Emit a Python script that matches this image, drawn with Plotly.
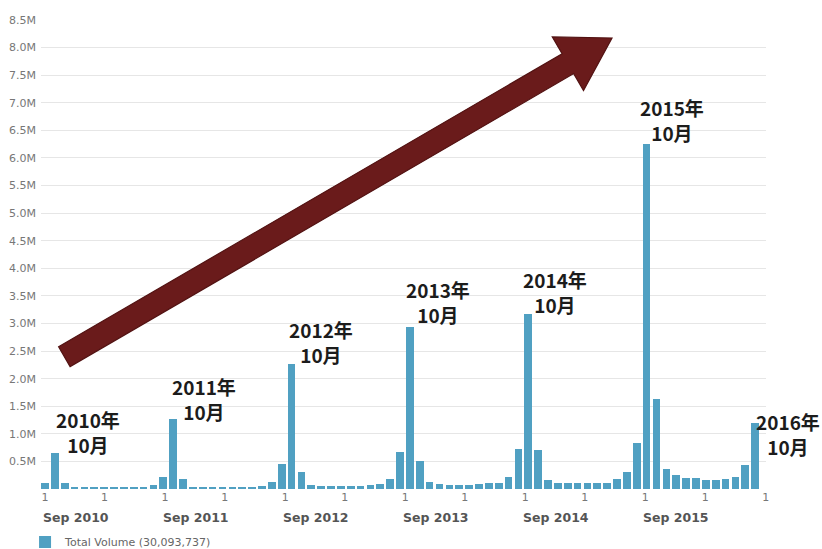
import pandas as pd
import plotly.graph_objects as go

# ---- data (values in millions, one bucket every 30 days) ----
bucket_start = "2010-09-01"
bucket_days = 30
volume_m = [
    0.11, 0.66, 0.10, 0.022, 0.022, 0.022, 0.022, 0.022, 0.022, 0.025, 0.036, 0.07, 0.22,
    1.26, 0.19, 0.025, 0.024, 0.024, 0.024, 0.024, 0.026, 0.036, 0.05, 0.13, 0.45,
    2.26, 0.31, 0.08, 0.057, 0.057, 0.06, 0.057, 0.057, 0.065, 0.085, 0.19, 0.67,
    2.93, 0.50, 0.12, 0.09, 0.08, 0.08, 0.08, 0.095, 0.10, 0.11, 0.21, 0.73,
    3.18, 0.70, 0.157, 0.114, 0.114, 0.114, 0.114, 0.114, 0.114, 0.18, 0.31, 0.84,
    6.25, 1.64, 0.355, 0.245, 0.20, 0.20, 0.17, 0.17, 0.19, 0.22, 0.43, 1.20,
]
series_name = "Total Volume (30,093,737)"
y_tick_values_m = [0.5, 1.0, 1.5, 2.0, 2.5, 3.0, 3.5, 4.0, 4.5, 5.0, 5.5, 6.0, 6.5, 7.0, 7.5, 8.0, 8.5]
x_tick_dates = ["2010-09-01", "2011-03-01", "2011-09-01", "2012-03-01", "2012-09-01", "2013-03-01",
                "2013-09-01", "2014-03-01", "2014-09-01", "2015-03-01", "2015-09-01", "2016-03-01",
                "2016-09-01"]
year_label_dates = ["2010-09-01", "2011-09-01", "2012-09-01", "2013-09-01", "2014-09-01", "2015-09-01"]
year_labels = ["Sep 2010", "Sep 2011", "Sep 2012", "Sep 2013", "Sep 2014", "Sep 2015"]
callout_texts = ["2010年<br>10月", "2011年<br>10月", "2012年<br>10月", "2013年<br>10月",
                 "2014年<br>10月", "2015年<br>10月", "2016年<br>10月"]
# callout centre positions in pixels of the 822x549 picture
callout_px = [(88, 432), (204, 399), (321, 342), (438, 302), (555, 292), (672, 120), (788, 434)]

dates = pd.date_range(bucket_start, periods=len(volume_m), freq=f"{bucket_days}D")
volume = [v * 1e6 for v in volume_m]

W, H = 822, 549
ML, MR, MT, MB = 41, 56, 19, 60
PW, PH = W - ML - MR, H - MT - MB


def px2paper(x, y):
    return (x - ML) / PW, (H - MB - y) / PH


fig = go.Figure()
fig.add_trace(go.Bar(
    x=dates, y=volume, name=series_name,
    marker=dict(color="#50a0c2", line=dict(width=0)),
    width=23.4 * 86400000,
    showlegend=True,
))

# big arrow (decoration)
arrow_px = [(58.6, 346.8), (562.1, 53.8), (552.3, 36.9), (612, 38), (583.5, 90.5),
            (573.7, 73.6), (70.1, 366.6)]
pts = [px2paper(x, y) for x, y in arrow_px]
path = "M " + " L ".join(f"{x:.5f},{y:.5f}" for x, y in pts) + " Z"
fig.add_shape(type="path", xref="paper", yref="paper", path=path,
              fillcolor="#6a1b1b", line=dict(color="#521212", width=1.2), layer="above")

for txt, (cx, cy) in zip(callout_texts, callout_px):
    xp, yp = px2paper(cx, cy)
    fig.add_annotation(x=xp, y=yp, xref="paper", yref="paper", text=txt, showarrow=False,
                       xanchor="center", yanchor="middle", align="center",
                       font=dict(family="Noto Sans CJK JP", size=19, color="#1c1c1c", weight="bold"))

for d, lab in zip(year_label_dates, year_labels):
    fig.add_annotation(x=d, y=(H - MB - 517) / PH, xref="x", yref="paper", text=lab,
                       showarrow=False, xanchor="left", yanchor="middle", xshift=-4,
                       font=dict(family="DejaVu Sans", size=12.5, color="#555555", weight="bold"))

fig.update_layout(
    width=W, height=H,
    margin=dict(l=ML, r=MR, t=MT, b=MB, pad=0, autoexpand=False),
    plot_bgcolor="white", paper_bgcolor="white",
    bargap=0,
    hovermode=False,
    font=dict(family="DejaVu Sans", size=11, color="#777777"),
    legend=dict(orientation="h", x=-0.022, xanchor="left", y=(H - MB - 542) / PH,
                yanchor="middle", font=dict(family="DejaVu Sans", size=11, color="#666666"),
                bgcolor="rgba(0,0,0,0)"),
    xaxis=dict(
        type="date",
        range=["2010-08-20", "2016-09-02"],
        tickvals=x_tick_dates, ticktext=["1"] * len(x_tick_dates),
        showgrid=False, zeroline=False, showline=False, ticks="",
        automargin=False,
        tickfont=dict(family="DejaVu Sans", size=11, color="#777777"),
    ),
    yaxis=dict(
        range=[0, 8.518e6],
        tickvals=[v * 1e6 for v in y_tick_values_m],
        ticktext=[f"{v:.1f}M" for v in y_tick_values_m],
        showgrid=True, gridcolor="#e6e6e6", gridwidth=1,
        zeroline=False, showline=False, ticks="",
        automargin=False,
        ticklabelstandoff=4,
        tickfont=dict(family="DejaVu Sans", size=11, color="#777777"),
    ),
)

fig.write_html("out.html", config={"displayModeBar": False},
               post_script="document.body.style.margin='0';document.body.style.overflow='hidden';")
